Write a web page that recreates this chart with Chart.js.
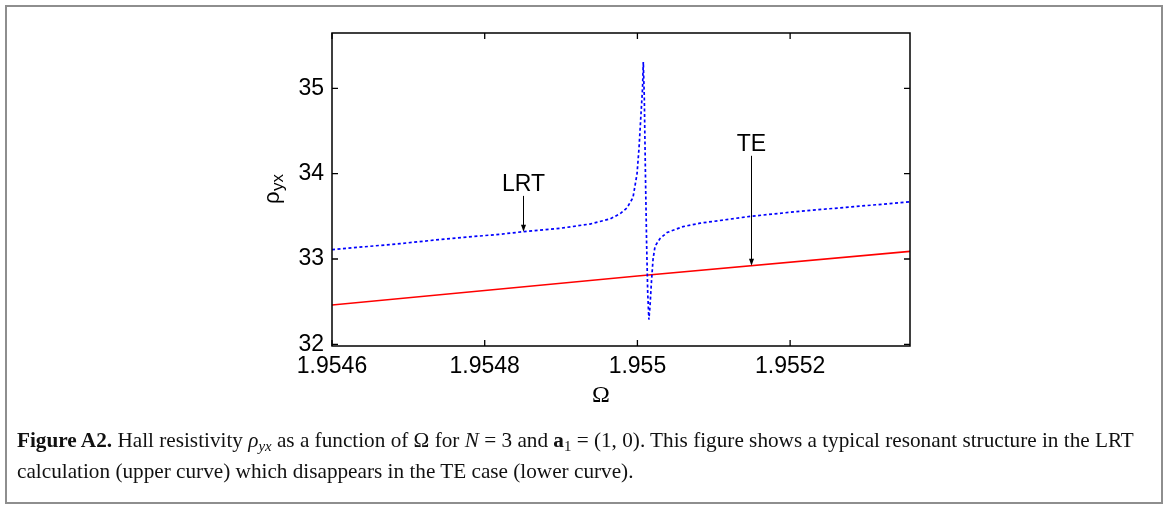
<!DOCTYPE html>
<html>
<head>
<meta charset="utf-8">
<script src="https://cdn.jsdelivr.net/npm/chart.js@4"></script>
<style>
  html, body { margin: 0; padding: 0; background: #fff; }
  #wrap { position: relative; width: 1174px; height: 505px; overflow: hidden; }
  #c { position: absolute; left: 0; top: 0; }
  #frame { position: absolute; left: 5px; top: 5px; width: 1158px; height: 499px; box-sizing: border-box; border: 2px solid #8e8e8e; }
  #caption { position: absolute; left: 17px; top: 425px; font-family: "Liberation Serif", "DejaVu Serif", serif; font-size: 19px; line-height: 31px; color: #111; white-space: nowrap; }
  #caption .ln { display: block; }
  #caption sub { font-size: 0.7em; vertical-align: -0.25em; line-height: 0; }
</style>
</head>
<body>
<div id="wrap">
  <canvas id="c" width="1174" height="505"></canvas>
  <div id="frame"></div>
  <div id="caption">
    <span class="ln" id="l1"><b>Figure A2.</b> Hall resistivity <i>ρ<sub>yx</sub></i> as a function of Ω for <i>N</i> = 3 and <b>a</b><sub>1</sub> = (1, 0). This figure shows a typical resonant structure in the LRT</span>
    <span class="ln">calculation (upper curve) which disappears in the TE case (lower curve).</span>
  </div>
</div>
<script>
// ---- data ----
const xTicks = [1.9546, 1.9548, 1.955, 1.9552];
const xTickLabels = ['1.9546', '1.9548', '1.955', '1.9552'];
const yTicks = [32, 33, 34, 35];
const yTickLabels = ['32', '33', '34', '35'];

// LRT (blue dotted, upper curve)
const lrtOmega = [1.9546, 1.954689, 1.9547545, 1.95482, 1.9548502, 1.9548986, 1.9549379, 1.954951,
  1.9549641, 1.9549772, 1.9549864, 1.9549942, 1.9549995, 1.9550021, 1.9550047, 1.9550067, 1.9550077,
  1.955009, 1.9550105, 1.955012, 1.9550135, 1.955015, 1.9550165, 1.9550185, 1.9550205, 1.9550231,
  1.9550296, 1.9550388, 1.9550597, 1.955082, 1.9551475, 1.955213, 1.9552785, 1.955357];
const lrtRho = [33.11, 33.18, 33.24, 33.29, 33.32, 33.36, 33.41, 33.44,
  33.47, 33.53, 33.60, 33.72, 34.0, 34.3, 34.7, 35.0, 35.31,
  34.9, 34.0, 33.2, 32.6, 32.29, 32.45, 32.75, 33.0, 33.15,
  33.24, 33.31, 33.38, 33.42, 33.50, 33.56, 33.61, 33.67];

// TE (red solid, lower curve)
const teOmega = [1.9546, 1.955, 1.955357];
const teRho = [32.46, 32.80, 33.09];

// annotations: [label, omega, textRho, arrowStartRho, arrowTipRho]
const annLRT = ['LRT', 1.9548506, 33.80, 33.74, 33.32];
const annTE = ['TE', 1.9551484, 34.27, 34.21, 32.92];

const xMin = 1.9546, xMax = 1.955357, yMin = 31.98, yMax = 35.65;

const toPts = (xs, ys) => xs.map((x, i) => ({ x: x, y: ys[i] }));

const CA = { left: 332, top: 33, right: 910, bottom: 346 };
const W = 1174, H = 505;
const TICKFONT = '23px "Liberation Sans", Arial, sans-serif';

const decor = {
  id: 'decor',
  afterDraw(chart) {
    const ctx = chart.ctx;
    const a = chart.chartArea;
    const xs = chart.scales.x, ys = chart.scales.y;
    ctx.save();
    // frame
    ctx.strokeStyle = '#000';
    ctx.lineWidth = 1.5;
    ctx.strokeRect(a.left, a.top, a.right - a.left, a.bottom - a.top);
    // inward ticks on all four sides
    const tl = 6;
    ctx.lineWidth = 1.3;
    ctx.beginPath();
    xTicks.forEach(v => {
      const px = xs.getPixelForValue(v);
      ctx.moveTo(px, a.bottom); ctx.lineTo(px, a.bottom - tl);
      ctx.moveTo(px, a.top); ctx.lineTo(px, a.top + tl);
    });
    yTicks.forEach(v => {
      const py = ys.getPixelForValue(v);
      ctx.moveTo(a.left, py); ctx.lineTo(a.left + tl, py);
      ctx.moveTo(a.right, py); ctx.lineTo(a.right - tl, py);
    });
    ctx.stroke();

    // annotations
    ctx.fillStyle = '#000';
    ctx.strokeStyle = '#000';
    ctx.font = '23px "Liberation Sans", Arial, sans-serif';
    ctx.textAlign = 'center';
    ctx.textBaseline = 'alphabetic';
    [annLRT, annTE].forEach(an => {
      const px = Math.round(xs.getPixelForValue(an[1])) + 0.5;
      const ty = ys.getPixelForValue(an[2]);
      const y0 = ys.getPixelForValue(an[3]);
      const y1 = ys.getPixelForValue(an[4]);
      ctx.fillText(an[0], px, ty);
      ctx.lineWidth = 1;
      ctx.beginPath();
      ctx.moveTo(px, y0); ctx.lineTo(px, y1 - 2);
      ctx.stroke();
      ctx.beginPath();
      ctx.moveTo(px, y1);
      ctx.lineTo(px - 2.5, y1 - 7);
      ctx.lineTo(px + 2.5, y1 - 7);
      ctx.closePath();
      ctx.fill();
    });

    // x axis title (Omega)
    ctx.font = '24px "Liberation Serif", "DejaVu Serif", serif';
    ctx.textAlign = 'center';
    ctx.fillText('Ω', 601, 402);

    // y axis title rho_yx (rotated)
    ctx.translate(279, 204);
    ctx.rotate(-Math.PI / 2);
    ctx.textAlign = 'left';
    ctx.font = '22px "Liberation Sans", Arial, sans-serif';
    ctx.fillText('ρ', 0, 0);
    const rw = ctx.measureText('ρ').width;
    ctx.font = '17px "Liberation Sans", Arial, sans-serif';
    ctx.fillText('yx', rw + 0.5, 4);
    ctx.restore();
  }
};

new Chart(document.getElementById('c'), {
  type: 'line',
  data: {
    datasets: [
      {
        label: 'LRT',
        data: toPts(lrtOmega, lrtRho),
        borderColor: 'rgb(0,0,255)',
        borderWidth: 1.7,
        borderDash: [3, 2.5],
        pointRadius: 0,
        tension: 0,
        fill: false
      },
      {
        label: 'TE',
        data: toPts(teOmega, teRho),
        borderColor: 'rgb(255,0,0)',
        borderWidth: 1.6,
        pointRadius: 0,
        tension: 0,
        fill: false
      }
    ]
  },
  options: {
    responsive: false,
    animation: false,
    devicePixelRatio: 1,
    layout: { padding: { left: 0, top: CA.top, right: W - CA.right, bottom: 0 } },
    plugins: { legend: { display: false }, tooltip: { enabled: false }, title: { display: false } },
    scales: {
      x: {
        type: 'linear',
        min: xMin, max: xMax,
        grid: { display: false, drawTicks: false },
        border: { display: false },
        afterBuildTicks: s => { s.ticks = xTicks.map(v => ({ value: v })); },
        afterFit: s => { s.height = H - CA.bottom; },
        ticks: {
          font: { family: '"Liberation Sans", Arial, sans-serif', size: 23 },
          color: '#000',
          padding: 7,
          maxRotation: 0,
          autoSkip: false,
          callback: (v, i) => xTickLabels[i]
        }
      },
      y: {
        type: 'linear',
        min: yMin, max: yMax,
        grid: { display: false, drawTicks: false },
        border: { display: false },
        afterBuildTicks: s => { s.ticks = yTicks.map(v => ({ value: v })); },
        afterFit: s => { s.width = CA.left; },
        ticks: {
          font: { family: '"Liberation Sans", Arial, sans-serif', size: 23 },
          color: '#000',
          padding: 8,
          autoSkip: false,
          callback: (v, i) => yTickLabels[i]
        }
      }
    }
  },
  plugins: [decor]
});

// fit caption's first line to the reference width
(function fitCaption() {
  const cap = document.getElementById('caption');
  const l1 = document.getElementById('l1');
  const target = 1133 - 17;
  let fs = 19;
  for (let k = 0; k < 4; k++) {
    const w = l1.getBoundingClientRect().width;
    fs = fs * target / w;
    cap.style.fontSize = fs.toFixed(2) + 'px';
  }
})();
</script>
</body>
</html>
